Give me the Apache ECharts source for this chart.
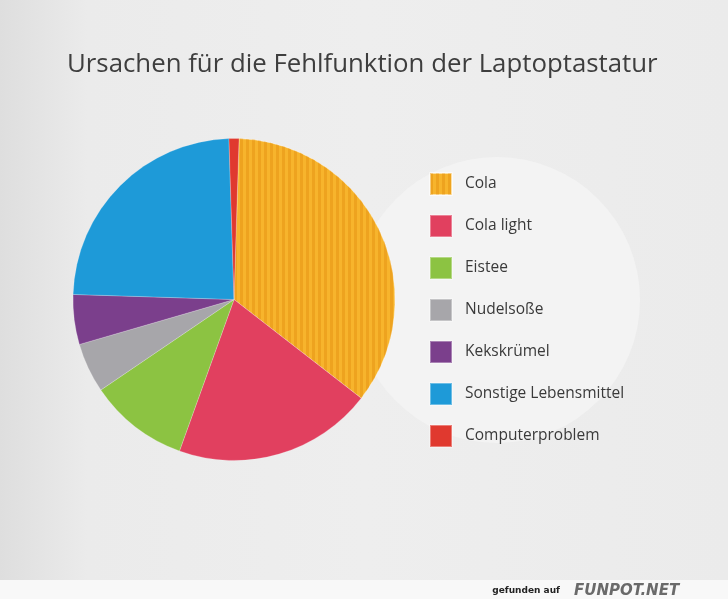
<!DOCTYPE html>
<html><head><meta charset="utf-8">
<script src="https://cdn.jsdelivr.net/npm/echarts@6/dist/echarts.min.js"></script>
<style>html,body{margin:0;padding:0;}#c{width:728px;height:599px;}</style>
</head><body><div id="c"></div>
<script>
const categories = ['Cola','Cola light','Eistee','Nudelsoße','Kekskrümel','Sonstige Lebensmittel','Computerproblem'];
const values = [35, 20, 10, 5, 5, 24, 1];
const colors = ['#f7b42c','#e1405f','#8cc342','#a7a6aa','#7b3f8c','#1e9ad8','#e0392f'];
const titleText = 'Ursachen für die Fehlfunktion der Laptoptastatur';

const chart = echarts.init(document.getElementById('c'));
const data = categories.map((n,i)=>{
  const d = {name:n, value:values[i], itemStyle:{color:colors[i]}};
  if (i===0) d.itemStyle.decal = {symbol:'rect', symbolSize:1, dashArrayX:[3,3], dashArrayY:[1,0], color:'rgba(232,150,20,0.55)'};
  return d;
});
chart.setOption({
  backgroundColor: {type:'linear', x:0, y:0, x2:1, y2:0, colorStops:[
    {offset:0, color:'#dedede'},{offset:0.12, color:'#ebebeb'},{offset:0.5, color:'#eeeeee'},{offset:1, color:'#ebebeb'}]},
  title: {text:titleText, left:67, top:52, padding:0, textStyle:{fontFamily:'Open Sans', fontWeight:'normal', fontSize:25.8, color:'#3e3e3e'}},
  graphic: [
    {type:'circle', shape:{cx:497, cy:300, r:143}, style:{fill:'#f3f3f3'}, z:-10},
    {type:'rect', shape:{x:0, y:580, width:728, height:19}, style:{fill:'#f8f8f8'}, z:-10},
    {type:'text', x:560, y:591, style:{text:'gefunden auf', fontSize:9, fontWeight:'bold', fontFamily:'DejaVu Sans', fill:'#222', textVerticalAlign:'middle', textAlign:'right'}},
    {type:'text', x:574, y:591, style:{text:'FUNPOT.NET', fontSize:15, fontWeight:'bold', fontStyle:'italic', fontFamily:'DejaVu Sans', fill:'#6a6a6a', textVerticalAlign:'middle'}}
  ],
  legend: {orient:'vertical', left:429, top:172, padding:0, itemWidth:22, itemHeight:22, itemGap:18,
    icon:'rect', data:categories,
    textStyle:{fontFamily:'Open Sans', fontSize:15.5, color:'#3a3a3a', padding:[0,0,0,8]}},
  series: [{type:'pie', radius:161, center:[234,299.5], startAngle:88.2, clockwise:true,
    label:{show:false}, labelLine:{show:false}, silent:true, animation:false,
    itemStyle:{borderColor:'rgba(255,255,255,0.35)', borderWidth:0.6},
    data:data}]
});
</script></body></html>
